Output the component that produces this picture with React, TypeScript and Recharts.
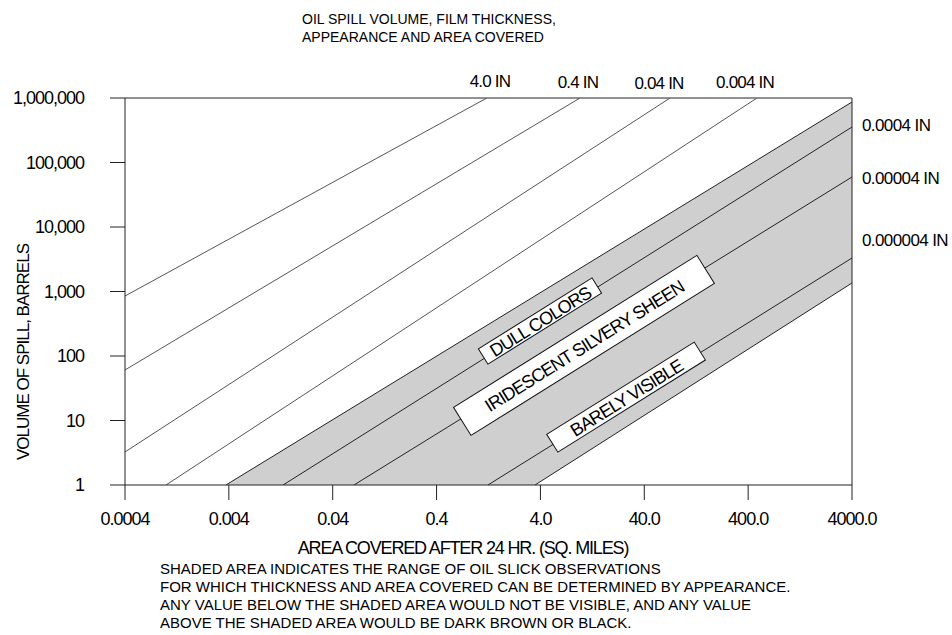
import React from "react";
import {
  ComposedChart,
  Line,
  Area,
  XAxis,
  YAxis,
  ReferenceLine,
  ReferenceDot,
} from "recharts";

// axis ticks
const xTicks = [0.0004, 0.004, 0.04, 0.4, 4, 40, 400, 4000];
const xTickLabels = ["0.0004", "0.004", "0.04", "0.4", "4.0", "40.0", "400.0", "4000.0"];
const yTicks = [1, 10, 100, 1000, 10000, 100000, 1000000];

// film thickness lines (area sq. miles -> barrels), end points
const line4in = [{ x: 0.0004, y: 851 }, { x: 1.22, y: 1000000 }];
const line04in = [{ x: 0.0004, y: 60.7 }, { x: 9.62, y: 1000000 }];
const line004in = [{ x: 0.0004, y: 3.25 }, { x: 70.8, y: 1000000 }];
const line0004in = [{ x: 0.000993, y: 1 }, { x: 486, y: 1000000 }];
const line00004in = [{ x: 0.00375, y: 1 }, { x: 4000, y: 867000 }];
const lineMid1 = [{ x: 0.0133, y: 1 }, { x: 4000, y: 355000 }];
const line000004in = [{ x: 0.0641, y: 1 }, { x: 4000, y: 59600 }];
const lineMid2 = [{ x: 1.25, y: 1 }, { x: 4000, y: 3306 }];
const lineLowest = [{ x: 3.55, y: 1 }, { x: 4000, y: 1355 }];

const thinLines = [line4in, line04in, line004in, line0004in];
const shadeLines = [line00004in, lineMid1, line000004in, lineMid2, lineLowest];

// labels on the lines
const topLabels = ["4.0 IN", "0.4 IN", "0.04 IN", "0.004 IN"];
const rightLabels = ["0.0004 IN", "0.00004 IN", "0.000004 IN"];

// appearance boxes
const boxLabels = ["DULL COLORS", "IRIDESCENT SILVERY SHEEN", "BARELY VISIBLE"];
const boxX = [3.96, 10.5, 26.7];
const boxY = [349, 146, 23];

const notes = [
  "SHADED AREA INDICATES THE RANGE OF OIL SLICK OBSERVATIONS",
  "FOR WHICH THICKNESS AND AREA COVERED CAN BE DETERMINED BY APPEARANCE.",
  "ANY VALUE BELOW THE SHADED AREA WOULD NOT BE VISIBLE, AND ANY VALUE",
  "ABOVE THE SHADED AREA WOULD BE DARK BROWN OR BLACK.",
];

const FONT = "'Liberation Sans', Arial, sans-serif";
const boxSize = [
  { w: 134, h: 18 },
  { w: 287, h: 33 },
  { w: 174, h: 21 },
];
const topLabelPos = [
  { x: 490, y: 81 },
  { x: 578, y: 82 },
  { x: 659, y: 83 },
  { x: 745, y: 82 },
];
const rightLabelY = [125, 178, 240];

const Txt = ({ x, y, size = 15, spacing = -0.5, anchor = "middle", children }: any) => (
  <div
    style={{
      position: "absolute",
      left: x,
      top: y,
      transform: `translate(${anchor === "start" ? "0" : "-50%"}, -50%)`,
      fontSize: size,
      letterSpacing: spacing,
      whiteSpace: "nowrap",
      lineHeight: 1,
      color: "#000",
    }}
  >
    {children}
  </div>
);

const makeBox = (i: number) => (props: any) => {
  const { cx, cy } = props;
  const { w, h } = boxSize[i];
  return (
    <g transform={`translate(${cx},${cy}) rotate(-32)`}>
      <rect x={-w / 2} y={-h / 2} width={w} height={h} fill="#fff" stroke="#111" strokeWidth={1} />
      <text
        x={0}
        y={1}
        textAnchor="middle"
        dominantBaseline="central"
        fontFamily={FONT}
        fontSize={18}
        letterSpacing={-1}
        fill="#000"
      >
        {boxLabels[i]}
      </text>
    </g>
  );
};

const tickStyle = { fill: "#000", fontSize: 18, letterSpacing: -1, fontFamily: FONT };

export default function App() {
  return (
    <div
      style={{
        position: "absolute",
        left: 0,
        top: 0,
        width: 952,
        height: 635,
        background: "#fff",
        fontFamily: FONT,
      }}
    >
      <div style={{ position: "absolute", left: 302, top: 10, fontSize: 14, lineHeight: "18px" }}>
        OIL SPILL VOLUME, FILM THICKNESS,
        <br />
        APPEARANCE AND AREA COVERED
      </div>

      <ComposedChart width={952} height={635} margin={{ top: 98, right: 100, bottom: 110, left: 0 }}>
        <XAxis
          type="number"
          dataKey="x"
          scale="log"
          domain={[0.0004, 4000]}
          ticks={xTicks}
          allowDataOverflow
          height={40}
          tickSize={15}
          tickMargin={12}
          tickFormatter={(v: number, i: number) => xTickLabels[i]}
          tick={tickStyle}
          stroke="#222"
          interval={0}
        />
        <YAxis
          type="number"
          scale="log"
          domain={[1, 1000000]}
          ticks={yTicks}
          allowDataOverflow
          width={125}
          tickSize={15}
          tickMargin={26}
          tickFormatter={(v: number) => v.toLocaleString("en-US")}
          tick={tickStyle}
          stroke="#222"
          interval={0}
        />
        <Area
          data={line00004in}
          dataKey="y"
          type="linear"
          stroke="none"
          fill="#cfcfcf"
          fillOpacity={1}
          isAnimationActive={false}
        />
        <Area
          data={lineLowest}
          dataKey="y"
          type="linear"
          stroke="none"
          fill="#ffffff"
          fillOpacity={1}
          isAnimationActive={false}
        />
        <ReferenceLine y={1000000} stroke="#222" />
        <ReferenceLine x={4000} stroke="#222" />
        {thinLines.map((d, i) => (
          <Line
            key={"t" + i}
            data={d}
            dataKey="y"
            type="linear"
            stroke="#555"
            strokeWidth={1}
            dot={false}
            isAnimationActive={false}
          />
        ))}
        {shadeLines.map((d, i) => (
          <Line
            key={"s" + i}
            data={d}
            dataKey="y"
            type="linear"
            stroke="#222"
            strokeWidth={1}
            dot={false}
            isAnimationActive={false}
          />
        ))}
        {boxLabels.map((b, i) => (
          <ReferenceDot key={b} x={boxX[i]} y={boxY[i]} r={1} shape={makeBox(i)} />
        ))}
      </ComposedChart>

      {topLabels.map((t, i) => (
        <Txt key={t} x={topLabelPos[i].x} y={topLabelPos[i].y} size={17} spacing={-0.8}>
          {t}
        </Txt>
      ))}
      {rightLabels.map((t, i) => (
        <Txt key={t} x={862} y={rightLabelY[i]} size={17} spacing={-0.6} anchor="start">
          {t}
        </Txt>
      ))}

      <div
        style={{
          position: "absolute",
          left: 24,
          top: 352,
          transform: "translate(-50%, -50%) rotate(-90deg)",
          fontSize: 17,
          letterSpacing: -1,
          whiteSpace: "nowrap",
        }}
      >
        VOLUME OF SPILL, BARRELS
      </div>
      <Txt x={463} y={548} size={18} spacing={-1.15}>
        AREA COVERED AFTER 24 HR. (SQ. MILES)
      </Txt>
      <div style={{ position: "absolute", left: 160, top: 560, fontSize: 15, lineHeight: "18px" }}>
        {notes.map((n) => (
          <div key={n}>{n}</div>
        ))}
      </div>
    </div>
  );
}
